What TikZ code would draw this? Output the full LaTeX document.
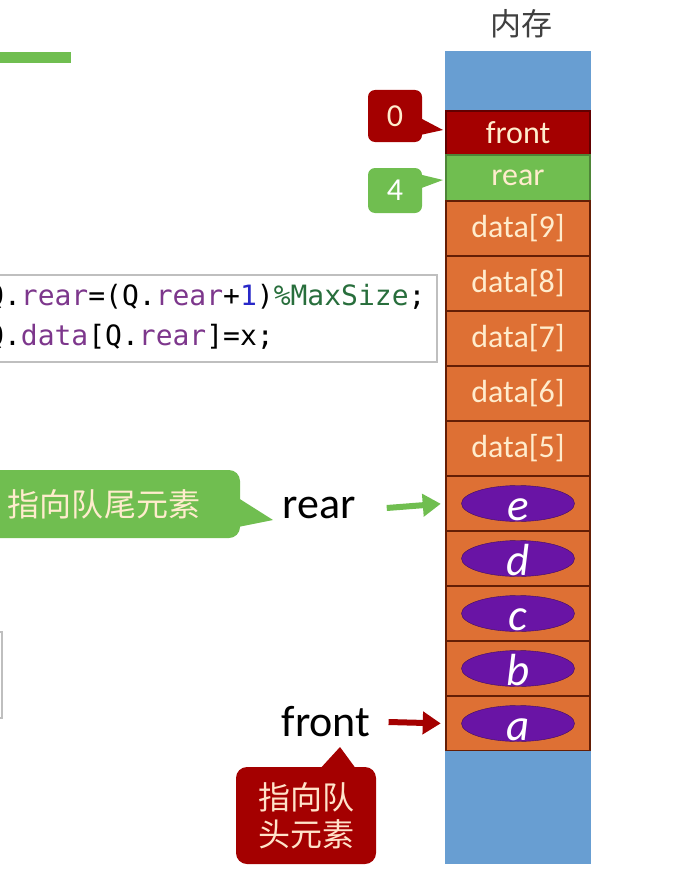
\documentclass[tikz,border=0pt]{standalone}
\usepackage{fontspec}
\setmainfont{Carlito}
\setmonofont{DejaVu Sans Mono}
\newfontfamily\cjk{Noto Sans CJK SC}
\usetikzlibrary{shapes,arrows.meta,calc}

\definecolor{memblue}{RGB}{104,158,210}
\definecolor{frontred}{RGB}{164,0,0}
\definecolor{reargreen}{RGB}{112,190,80}
\definecolor{dataorange}{RGB}{222,112,52}
\definecolor{celledge}{RGB}{100,30,5}
\definecolor{celltext}{RGB}{255,236,205}
\definecolor{elempurple}{RGB}{105,20,165}
\definecolor{codepurple}{RGB}{125,55,140}
\definecolor{codegreen}{RGB}{40,110,60}
\definecolor{codeblue}{RGB}{40,40,200}
\newcommand\fld[1]{\textcolor{codepurple}{#1}}

\begin{document}
\begin{tikzpicture}[x=1pt, y=-1pt,
  cell/.style={draw=celledge, line width=2.5pt, minimum width=144pt, minimum height=55pt, inner sep=0pt, text=celltext, font=\fontsize{32}{32}\selectfont},
  elem/.style={ellipse, draw=elempurple!60!black, fill=elempurple, minimum width=113pt, minimum height=36pt, inner sep=0pt},
  letter/.style={inner sep=0pt, text=white, font=\fontsize{45}{45}\selectfont\itshape},
  bubble/.style={rounded corners=7pt, minimum width=54pt, inner sep=0pt, font=\fontsize{32}{32}\selectfont},
  callout/.style={rounded corners=11pt, inner sep=0pt, align=center, font=\cjk\fontsize{32}{37}\selectfont},
  lbl/.style={inner sep=0pt, font=\fontsize{44}{44}\selectfont},
  ptr/.style={line width=6pt, -{Triangle[length=18pt,width=22pt]}, shorten >=4pt}]

\useasboundingbox (0,0) rectangle (697,888);
\clip (0,0) rectangle (697,888);

% green bar at the top left
\fill[reargreen] (0,52) rectangle (71,63);

\node[font=\cjk\fontsize{31}{31}\selectfont, text=black!75] (mem) at (521,24) {内存};

% memory column
\node[cell, fill=memblue, draw=memblue, minimum height=59pt] (top) at (518,81.5) {};
\node[cell, fill=frontred, draw=frontred!60!black, minimum height=44pt] (fcell) at (518,133) {front};
\node[cell, fill=reargreen, draw=reargreen!70!black, minimum height=46pt] (rcell) at (518,178) {rear};
\foreach \k [count=\i from 0] in {9,8,7,6,5}
  \node[cell, fill=dataorange] (d\k) at (518,228.5+55*\i) {data[\k]};
\foreach \l [count=\i from 5] in {e,d,c,b,a}{
  \node[cell, fill=dataorange] (c\l) at (518,228.5+55*\i) {};
  \node[elem] (e\l) at (c\l) {};
  \node[letter, anchor=base] (t\l) at ([yshift=-17pt]e\l.center) {\l};
}
\node[cell, fill=memblue, draw=memblue, minimum height=111pt] (bot) at (518,807.5) {};

% values of front and rear
\node[bubble, fill=frontred, text=celltext, minimum height=52pt] (fval) at (395,116) {0};
\fill[frontred] ($(fval.east)+(-2,2)$) -- (443,130) -- ($(fval.east)+(-2,19)$) -- cycle;
\node[bubble, fill=reargreen, text=white, minimum height=45pt] (rval) at (395,190.5) {4};
\fill[reargreen] ($(rval.east)+(-2,-16)$) -- (443,180) -- ($(rval.east)+(-2,-2)$) -- cycle;

% code
\draw[gray!50, line width=1.2pt] (-5,275) rectangle (437,362);
\node[anchor=base west, inner sep=0pt, font=\ttfamily\fontsize{28}{28}\selectfont] (line1) at (-13,305)
  {Q.\fld{rear}=(Q.\fld{rear}+\textcolor{codeblue}{1})\textcolor{codegreen}{\%MaxSize};};
\node[anchor=base west, inner sep=0pt, font=\ttfamily\fontsize{28}{28}\selectfont] (line2) at (-13,345)
  {Q.\fld{data}[Q.\fld{rear}]=x;};

\draw[gray!50, line width=1.2pt] (-10,632) rectangle (2,718);

% rear pointer
\node[lbl] (rearlbl) at (319,508) {rear};
\node[callout, fill=reargreen, text=celltext, minimum width=272pt, minimum height=68pt] (rearnote) at (104,504) {指向队尾元素};
\fill[reargreen] ($(rearnote.east)+(-2,-6)$) -- (273,520) -- ($(rearnote.east)+(-2,23)$) -- cycle;
\draw[ptr, reargreen] ([xshift=31pt]rearlbl.east) -- (ce.west);

% front pointer
\node[lbl] (frontlbl) at (326,722) {front};
\node[callout, fill=frontred, text=celltext!80!pink, minimum width=140pt, minimum height=97pt] (frontnote) at (306,815.5) {指向队\\头元素};
\fill[frontred] ($(frontnote.north)+(14,2)$) -- (340,747) -- ($(frontnote.north)+(50,2)$) -- cycle;
\draw[ptr, frontred] ([xshift=18pt]frontlbl.east) -- (ca.west);

\end{tikzpicture}
\end{document}
